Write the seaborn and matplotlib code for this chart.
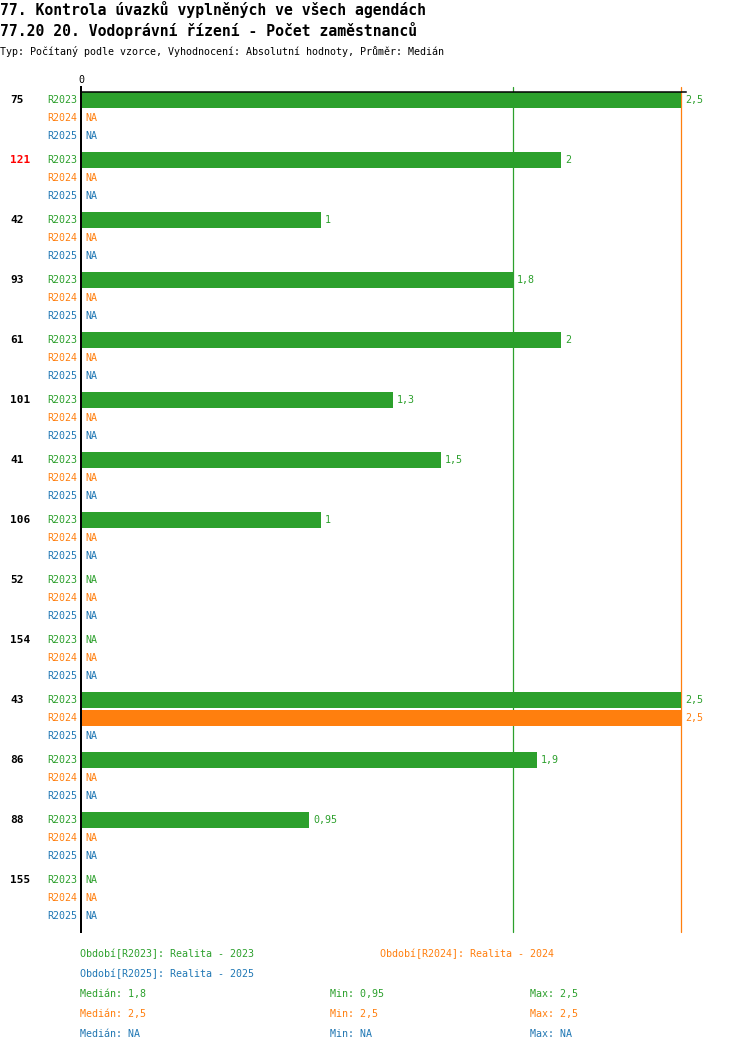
import numpy as np
import pandas as pd
import matplotlib
matplotlib.use("Agg")
import matplotlib.pyplot as plt
import matplotlib.transforms as mtrans
import seaborn as sns

# ---------------- data ----------------
title1 = "77. Kontrola úvazků vyplněných ve všech agendách"
title2 = "77.20 20. Vodoprávní řízení - Počet zaměstnanců"
subtitle = "Typ: Počítaný podle vzorce, Vyhodnocení: Absolutní hodnoty, Průměr: Medián"

groups = ["75", "121", "42", "93", "61", "101", "41", "106", "52", "154", "43", "86", "88", "155"]
highlight = ["121"]
periods = ["R2023", "R2024", "R2025"]
period_names = ["Realita - 2023", "Realita - 2024", "Realita - 2025"]
nan = np.nan
r2023 = [2.5, 2, 1, 1.8, 2, 1.3, 1.5, 1, nan, nan, 2.5, 1.9, 0.95, nan]
r2024 = [nan, nan, nan, nan, nan, nan, nan, nan, nan, nan, 2.5, nan, nan, nan]
r2025 = [nan, nan, nan, nan, nan, nan, nan, nan, nan, nan, nan, nan, nan, nan]
colors = ["#2ca02c", "#ff7f0e", "#1f77b4"]

series = [r2023, r2024, r2025]


def fmt(v):
    if v is None or not np.isfinite(v):
        return "NA"
    return f"{v:g}".replace(".", ",")


# ---------------- layout ----------------
W, H = 750, 1052
ax_left, ax_right, ax_top, ax_bot = 81, 686, 92, 932
PX = 240.0  # pixels per unit
GROUP_PITCH, ROW_PITCH, FIRST = 60, 18, 8

rows = []
for g, grp in enumerate(groups):
    for r, per in enumerate(periods):
        rows.append({"group": grp, "period": per,
                     "ypos": FIRST + GROUP_PITCH * g + ROW_PITCH * r,
                     "value": series[r][g]})
df = pd.DataFrame(rows)

sns.set_theme(style="white")
plt.rcParams["font.family"] = ["DejaVu Sans Mono", "DejaVu Sans"]

fig = plt.figure(figsize=(W / 100, H / 100), dpi=100)
ax = fig.add_axes([ax_left / W, 1 - ax_bot / H, (ax_right - ax_left) / W, (ax_bot - ax_top) / H])

# median lines (under bars)
for per, vals, c in zip(periods, series, colors):
    arr = np.array(vals, dtype=float)
    if np.isfinite(arr).any():
        ax.axvline(np.nanmedian(arr), ymin=0, ymax=1 + 5 / (ax_bot - ax_top),
                   color=c, lw=0.9, clip_on=False, zorder=0.5)

sns.barplot(data=df.dropna(subset=["value"]), x="value", y="ypos", hue="period",
            hue_order=periods, palette=colors, orient="h", native_scale=True,
            dodge=False, width=16 / 18, errorbar=None, legend=False,
            saturation=1, linewidth=0, ax=ax, zorder=2)

ax.set_xlim(0, (ax_right - ax_left) / PX)
ax.set_ylim(ax_bot - ax_top, 0)
ax.set_xlabel("")
ax.set_ylabel("")
ax.set_yticks([])
ax.xaxis.tick_top()
ax.set_xticks([0])
ax.set_xticklabels(["0"])
ax.tick_params(axis="x", top=True, bottom=False, length=6 / 1.389, width=1.44,
               color="black", pad=1, labelsize=7.2, direction="out", labelcolor="black")
for s in ["right", "bottom"]:
    ax.spines[s].set_visible(False)
ax.spines["left"].set_color("black")
ax.spines["left"].set_linewidth(1.44)
ax.spines["top"].set_color("black")
ax.spines["top"].set_linewidth(1.1)
ax.set_facecolor("white")

fs = 7.2
left_tr = mtrans.offset_copy(ax.transData, fig, x=-4, units="dots")
right_tr = mtrans.offset_copy(ax.transData, fig, x=4, units="dots")
grp_tr = mtrans.blended_transform_factory(fig.transFigure, ax.transData)

for _, row in df.iterrows():
    c = colors[periods.index(row["period"])]
    y = row["ypos"]
    ax.text(0, y, row["period"], transform=left_tr, ha="right", va="center",
            color=c, fontsize=fs, clip_on=False)
    v = row["value"]
    xv = v if np.isfinite(v) else 0
    ax.text(xv, y, fmt(v), transform=right_tr, ha="left", va="center",
            color=c, fontsize=fs, clip_on=False)

for g, grp in enumerate(groups):
    ax.text(10 / W, FIRST + GROUP_PITCH * g, grp, transform=grp_tr, ha="left", va="center",
            fontsize=8, fontweight="bold",
            color="#ff0000" if grp in highlight else "black", clip_on=False)


def ftext(x, y, s, **kw):
    fig.text(x / W, 1 - y / H, s, **kw)


ftext(0, 15, title1, fontsize=10.6, fontweight="bold", va="baseline", ha="left", color="black")
ftext(0, 36, title2, fontsize=10.6, fontweight="bold", va="baseline", ha="left", color="black")
ftext(0, 55, subtitle, fontsize=7.2, va="baseline", ha="left", color="black")

leg_pos = [(80, 954), (380, 954), (80, 974)]
for (x, y), per, name, c in zip(leg_pos, periods, period_names, colors):
    ftext(x, y, f"Období[{per}]: {name}", fontsize=fs, va="center", ha="left", color=c)

for i, (vals, c) in enumerate(zip(series, colors)):
    arr = np.array(vals, dtype=float)
    ok = np.isfinite(arr).any()
    med = np.nanmedian(arr) if ok else nan
    mn = np.nanmin(arr) if ok else nan
    mx = np.nanmax(arr) if ok else nan
    y = 994 + 20 * i
    ftext(80, y, f"Medián: {fmt(med)}", fontsize=fs, va="center", ha="left", color=c)
    ftext(330, y, f"Min: {fmt(mn)}", fontsize=fs, va="center", ha="left", color=c)
    ftext(530, y, f"Max: {fmt(mx)}", fontsize=fs, va="center", ha="left", color=c)

fig.savefig("out.png", dpi=100, facecolor="white")
